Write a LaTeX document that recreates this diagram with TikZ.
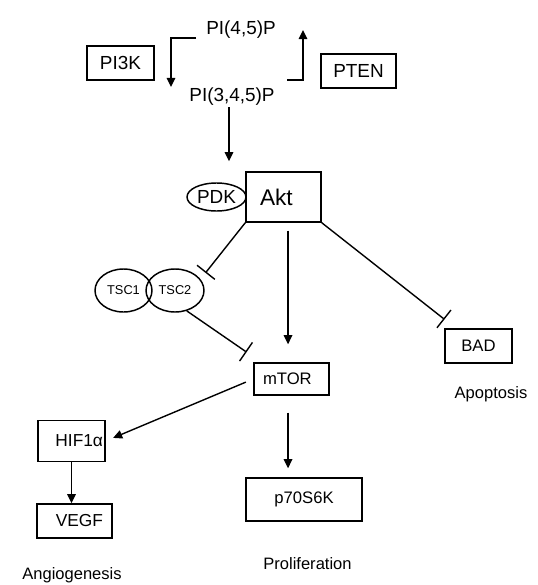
\documentclass[tikz,border=0pt]{standalone}
\usepackage{fontspec}
\setmainfont{Liberation Sans}
\usetikzlibrary{arrows.meta,shapes.geometric}

\tikzset{
  gene/.style={draw, line width=1.1pt, inner sep=0pt, font=\fontsize{12.5}{14}\selectfont},
  ring/.style={draw, ellipse, line width=1.1pt, inner sep=0pt},
  arr/.style={line width=1.05pt, -{Triangle[length=6.8pt,width=6.4pt]}},
  inh/.style={line width=1.05pt, -{Bar[width=17pt]}},
  lbl/.style={inner sep=0.75pt, font=\fontsize{12.4}{14}\selectfont},
  big/.style={font=\fontsize{14.2}{16}\selectfont},
}

\begin{document}
\begin{tikzpicture}[x=0.75pt,y=0.75pt,yscale=-1,xscale=1]
	\useasboundingbox (0,0) rectangle (537,585);
	% lipids and kinases
	\node[lbl, big] (pi45) at (241,30) {PI(4,5)P};
	\node[lbl, big] (pi345) at (232,97) {PI(3,4,5)P};
	\node[gene, big, minimum width=50.25pt, minimum height=25.5pt] (pi3k) at (120.5,63) {PI3K};
	\node[gene, big, minimum width=56.25pt, minimum height=25.5pt] (pten) at (358.5,71) {PTEN};
	\coordinate (pi3kin) at (196,38);
	\coordinate (pi3kout) at (171,87);
	\coordinate (ptenin) at (287,80);
	\coordinate (ptenout) at (303,30);
	\draw[arr] (pi3kin) -| (pi3kout);
	\draw[arr] (ptenin) -| (ptenout);
	% Akt and partners
	\node[gene, font=\fontsize{17}{19}\selectfont, inner xsep=10.5pt, text width=35.25pt, align=left, minimum height=37.5pt] (akt) at (283.5,197) {Akt};
	\node[ring, big, minimum width=44.25pt, minimum height=21pt] (pdk) at (216.5,197) {PDK};
	\node[ring, font=\fontsize{9.6}{11}\selectfont, minimum width=42.75pt, minimum height=32.25pt] (tsc1) at (123.5,290.5) {TSC1};
	\node[ring, font=\fontsize{9.6}{11}\selectfont, minimum width=43.5pt, minimum height=32.25pt] (tsc2) at (175,290.5) {TSC2};
	\node[gene, inner xsep=6.75pt, text width=42.75pt, align=left, minimum height=24pt] (mtor) at (291.5,379) {mTOR};
	\node[gene, minimum width=50.25pt, minimum height=25.5pt] (bad) at (478.5,346) {BAD};
	% targets
	\node[gene, font=\fontsize{13}{15}\selectfont, inner xsep=1.5pt, text width=47.25pt, align=right, minimum height=30.75pt] (hif) at (71.5,441) {HIF1α};
	\node[gene, font=\fontsize{13}{15}\selectfont, inner xsep=6.75pt, text width=42.75pt, align=right, minimum height=25.5pt] (vegf) at (74.5,521) {VEGF};
	\node[gene, minimum width=87pt, minimum height=32.25pt] (p70) at (304,499.5) {p70S6K};
	\node[lbl] (apop) at (491,394) {Apoptosis};
	\node[lbl] (prol) at (307.5,564) {Proliferation};
	\node[lbl] (angio) at (72,575) {Angiogenesis};
	% connectors
	\draw[arr, shorten >=7.5pt] ([xshift=-2.25pt]pi345.south) -- ([xshift=-2.25pt]pi345.south |- akt.north);
	\draw[arr, shorten <=6pt, shorten >=13.5pt] ([xshift=3.4pt]akt.south) -- ([xshift=3.4pt]akt.south |- mtor.north);
	\draw[inh, shorten >=6pt] (akt.south west) -- (tsc2.24);
	\draw[inh, shorten >=13.4pt] (tsc2.-60) -- (mtor.151);
	\draw[inh, shorten >=10.8pt] (akt.south east) -- (bad.142.6);
	\draw[arr, shorten <=6pt, shorten >=6pt] (mtor.west) -- (hif.east);
	\draw[arr, shorten <=12.75pt, shorten >=6.75pt] ([xshift=-2.6pt]mtor.south) -- ([xshift=-2.6pt]mtor.south |- p70.north);
	\draw[arr] (hif.south) -- (hif.south |- vegf.north);
\end{tikzpicture}
\end{document}
